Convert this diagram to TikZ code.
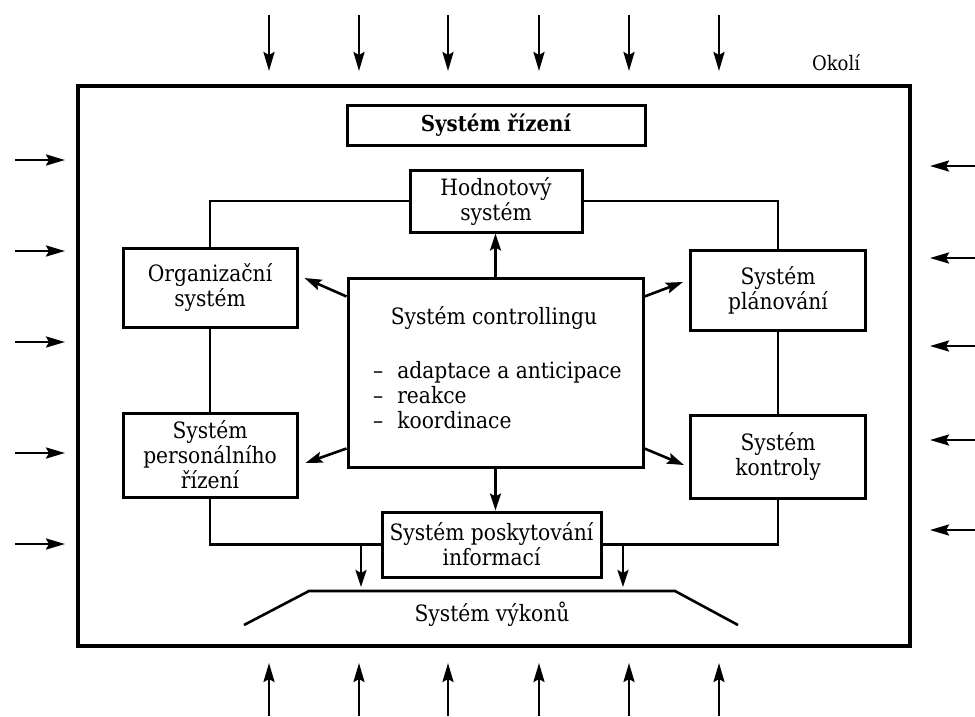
\documentclass[tikz,border=0pt]{standalone}
\usepackage{fontspec}
\setmainfont{DejaVu Serif Condensed}
\usetikzlibrary{arrows.meta}
\begin{document}
\begin{tikzpicture}[x=1pt,y=-1pt,
  box/.style={draw,line width=3pt,inner sep=0pt,align=center,
    font=\fontsize{22.5}{25}\selectfont},
  txt/.style={inner sep=0pt,font=\fontsize{22.5}{25}\selectfont},
  link/.style={line width=2.6pt},
  arr/.style={line width=2.6pt,-{Stealth[length=17pt,width=11pt,inset=3pt]}},
  envarr/.style={line width=2.6pt,-{Stealth[length=19pt,width=11pt,inset=3pt]}}]
\useasboundingbox (0,0) rectangle (975,716);

% surrounding system boundary
\draw[line width=3.4pt] (78,86) rectangle (910,646);
\node[inner sep=0pt,font=\fontsize{20}{22}\selectfont] (okoli) at (836,63) {Okolí};

% management system blocks
\node[box,minimum width=298pt,minimum height=40pt,font=\bfseries\fontsize{22}{24}\selectfont]
  (rizeni) at (496,125) {Systém řízení};
\node[box,minimum width=172pt,minimum height=62pt] (hodn) at (496,201) {Hodnotový\\systém};
\node[box,minimum width=174pt,minimum height=79pt] (org) at (210,287.5) {Organizační\\systém};
\node[box,minimum width=174pt,minimum height=84pt] (pers) at (210,455) {Systém\\personálního\\řízení};
\node[box,minimum width=175pt,minimum height=80pt] (plan) at (778,290) {Systém\\plánování};
\node[box,minimum width=175pt,minimum height=83pt] (kontr) at (778,456.5) {Systém\\kontroly};
\node[box,minimum width=295pt,minimum height=189pt] (ctrl) at (495.5,372.5) {};
\node[txt] (ctrltitle) at (494,318) {Systém controllingu};
\node[txt,anchor=west,align=left] (ctrllist) at (373,398)
  {\begin{tabular}{@{}l@{\hspace{14pt}}l@{}}
   --& adaptace a anticipace\\
   --& reakce\\
   --& koordinace
   \end{tabular}};
\node[box,minimum width=219pt,minimum height=65pt] (info) at (491.5,544.5) {Systém poskytování\\informací};

% performance system
\draw[line width=2.6pt] (244,625) -- (309,591) -- (675,591) -- (738,625);
\node[txt] (vykon) at (492,614) {Systém výkonů};

% connections between the blocks
\draw[link] (hodn.west) -| (org.north);
\draw[link] (hodn.east) -| (plan.north);
\draw[link] (org) -- (pers);
\draw[link] (plan) -- (kontr);
\draw[link] (pers.south) |- (info.west);
\draw[link] (kontr.south) |- (info.east);

\draw[arr] (ctrl.north) -- (ctrl.north |- hodn.south);
\draw[arr] (ctrl.south) -- (ctrl.south |- info.north);
\draw[arr] ([shift={(0,20)}]ctrl.north west) -- ([shift={(6,-9.5)}]org.east);
\draw[arr] ([shift={(0,-20)}]ctrl.south west) -- ([shift={(7,8)}]pers.east);
\draw[arr] ([shift={(0,20)}]ctrl.north east) -- ([shift={(-6,-8)}]plan.west);
\draw[arr] ([shift={(0,-20)}]ctrl.south east) -- ([shift={(-5,8.5)}]kontr.west);

\coordinate (tapL) at (361,544.5);
\coordinate (tapR) at (623,544.5);
\coordinate (vykL) at (361,587);
\coordinate (vykR) at (623,587);
\draw[arr] (tapL) -- (vykL);
\draw[arr] (tapR) -- (vykR);

% influences from the environment
\foreach \x [count=\i] in {269,359,448,539,629,719}{
  \coordinate (t\i) at (\x,15);
  \coordinate (tt\i) at (\x,71);
  \draw[envarr] (t\i) -- (tt\i);
  \coordinate (b\i) at (\x,716);
  \coordinate (bb\i) at (\x,663);
  \draw[envarr] (b\i) -- (bb\i);
}
\foreach \y [count=\i] in {160,251,342,453,544}{
  \coordinate (l\i) at (15,\y);
  \coordinate (ll\i) at (65,\y);
  \draw[envarr] (l\i) -- (ll\i);
}
\foreach \y [count=\i] in {166,258,346,440,530}{
  \coordinate (r\i) at (975,\y);
  \coordinate (rr\i) at (930,\y);
  \draw[envarr] (r\i) -- (rr\i);
}
\end{tikzpicture}
\end{document}
